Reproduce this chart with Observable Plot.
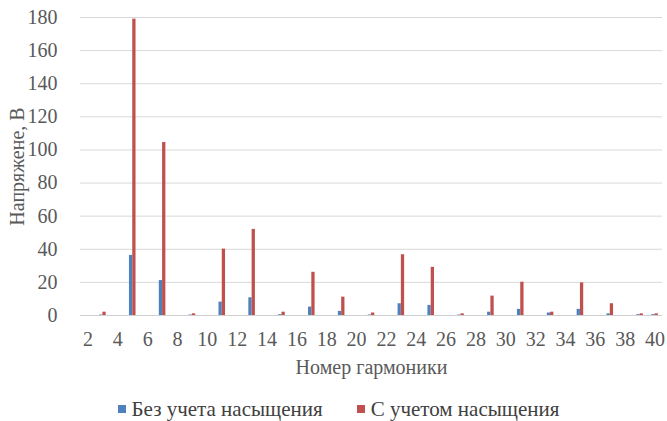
<!DOCTYPE html>
<html>
<head>
<meta charset="utf-8">
<script src="https://cdn.jsdelivr.net/npm/d3@7"></script>
<script src="https://cdn.jsdelivr.net/npm/@observablehq/plot@0.6"></script>
<style>
  body { margin: 0; background: #fff; }
  #chart { width: 667px; }
  .legend { display: flex; justify-content: center; align-items: center; gap: 34px; height: 36px; padding-top: 6px;
    font-family: "Liberation Serif", "Times New Roman", serif; font-size: 21px; color: #404040; padding-left: 10px; }
  .legend span.item { display: flex; align-items: center; }
  .legend span.sw { display: inline-block; width: 8px; height: 8px; margin-right: 6px; }
</style>
</head>
<body>
<div id="chart"></div>
<script>
const harmonics = [2,3,4,5,6,7,8,9,10,11,12,13,14,15,16,17,18,19,20,21,22,23,24,25,26,27,28,29,30,31,32,33,34,35,36,37,38,39,40];
const withoutSat = [0,0.3,0,36.3,0,21.1,0,0.3,0,8.1,0,10.7,0,0.5,0,5.1,0,2.5,0,0.3,0,7.1,0,6.1,0,0.3,0,2,0,3.7,0,1.5,0,3.7,0,1,0,0.5,0.5];
const withSat = [0,2,0,179,0,104.5,0,1,0,40.1,0,52,0,2,0,26.1,0,11.1,0,1.5,0,36.7,0,29.1,0,1,0,11.7,0,20.1,0,2,0,19.7,0,7.1,0,1,1];
const seriesNames = ["Без учета насыщения", "С учетом насыщения"];
const seriesColors = ["#4F81BD", "#C0504D"];
const yTicks = [0,20,40,60,80,100,120,140,160,180];
const xLabel = "Номер гармоники";
const yLabel = "Напряжене, В";

const dataA = harmonics.map((h, i) => ({h, v: withoutSat[i]}));
const dataB = harmonics.map((h, i) => ({h, v: withSat[i]}));

const serifFont = "Liberation Serif";

const chart = Plot.plot({
  width: 667,
  height: 385,
  marginLeft: 80,
  marginRight: 5,
  marginTop: 17,
  marginBottom: 70,
  style: { fontFamily: "'Liberation Serif', 'Times New Roman', serif", fontSize: "20px", color: "#595959", background: "#fff" },
  x: { type: "band", domain: harmonics, paddingInner: 0.56, paddingOuter: 0.28 },
  y: { domain: [0, 180] },
  marks: [
    Plot.gridY(yTicks, { stroke: "#d9d9d9", strokeOpacity: 1 }),
    Plot.ruleY([0], { stroke: "#d0d0d0" }),
    Plot.barY(dataA, { x: "h", y: "v", fill: seriesColors[0], insetRight: 3.3 }),
    Plot.barY(dataB, { x: "h", y: "v", fill: seriesColors[1], insetLeft: 3.3 }),
    Plot.axisY({ ticks: yTicks, tickSize: 0, tickPadding: 23, label: yLabel, labelAnchor: "center", labelArrow: "none", labelOffset: 71, fontSize: 20, fontFamily: serifFont }),
    Plot.axisX({ tickSize: 0, tickPadding: 16, tickFormat: d => d % 2 === 0 ? String(d) : "", label: xLabel, labelAnchor: "center", labelArrow: "none", labelOffset: 58, fontSize: 20, fontFamily: serifFont })
  ]
});
document.getElementById("chart").appendChild(chart);

const legend = document.createElement("div");
legend.className = "legend";
seriesNames.forEach((n, i) => {
  const item = document.createElement("span");
  item.className = "item";
  const sw = document.createElement("span");
  sw.className = "sw";
  sw.style.background = seriesColors[i];
  item.appendChild(sw);
  item.appendChild(document.createTextNode(n));
  legend.appendChild(item);
});
document.body.appendChild(legend);
</script>
</body>
</html>
